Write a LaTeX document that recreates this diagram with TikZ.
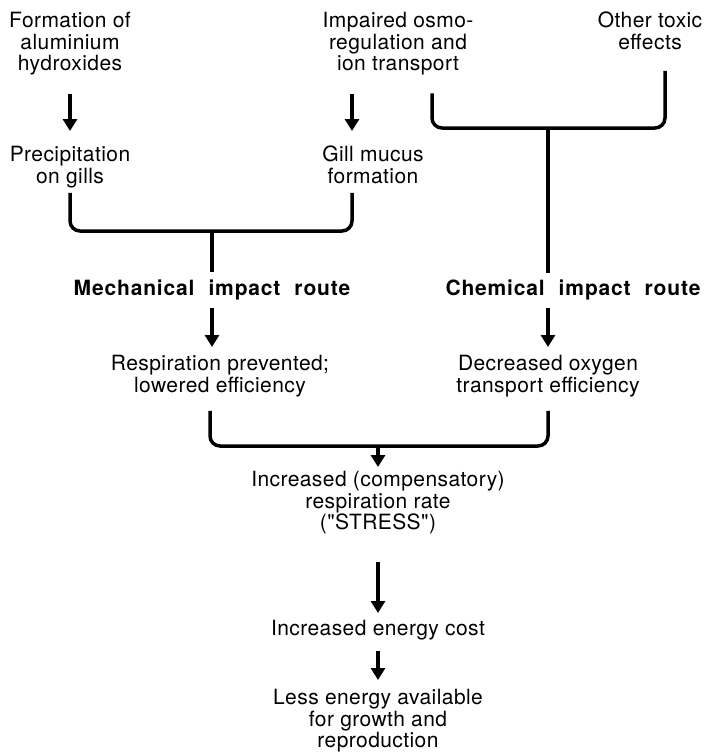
\documentclass[tikz,border=0pt]{standalone}
\usepackage{fontspec}
\setmainfont{TeX Gyre Heros}[LetterSpace=2, Ligatures=TeXOff]
\newfontfamily\routefamily{TeX Gyre Heros}[LetterSpace=4]
\newcommand\routefont{\fontsize{21pt}{21.5pt}\routefamily\bfseries\spaceskip=14pt\relax}
\usepackage{tikz}
\usetikzlibrary{arrows.meta}

\begin{document}
\begin{tikzpicture}[
    x=1pt, y=-1pt,
    txt/.style={anchor=north, align=center, inner sep=0pt, font=\fontsize{21pt}{21.5pt}\selectfont},
    route/.style={anchor=north, align=center, inner sep=0pt, font=\routefont},
    arrow/.style={-{Triangle[width=14pt,length=12pt]}, line width=4.5pt},
    bracket/.style={line width=3.5pt, rounded corners=10pt}
]
    \useasboundingbox (0,0) rectangle (707,752);

    % Causes
    \node[txt] (form) at (70, 12) {Formation of\\aluminium\\hydroxides};
    \node[txt] (impaired) at (398, 12) {Impaired osmo-\\regulation and\\ion transport};
    \node[txt] (other) at (650, 12) {Other toxic\\effects};

    % Effects on gills
    \node[txt] (prec) at (70, 146) {Precipitation\\on gills};
    \node[txt] (gill) at (373, 146) {Gill mucus\\formation};

    % Routes
    \node[route] (mech) at (212, 280) {Mechanical impact route};
    \node[route] (chem) at (573, 280) {Chemical impact route};

    \node[txt] (resp) at (220, 355) {Respiration prevented;\\lowered efficiency};
    \node[txt] (decr) at (548, 355) {Decreased oxygen\\transport efficiency};

    % Common outcome
    \node[txt] (incr) at (378, 471) {Increased (compensatory)\\respiration rate\\("STRESS")};
    \node[txt] (cost) at (378, 620) {Increased energy cost};
    \node[txt] (less) at (378, 689) {Less energy available\\for growth and\\reproduction};

    % Joins
    \coordinate (mj) at (212, 231);
    \coordinate (cj) at (548, 128);
    \coordinate (bj) at (378, 446);

    % Edges
    \draw[arrow, shorten <=19pt, shorten >=15pt] (form.south) -- (form.south |- prec.north);
    \draw[arrow, shorten <=19pt, shorten >=15pt] ([xshift=-46pt]impaired.south) -- ([xshift=-21pt]gill.north);

    \draw[bracket] ([yshift=-5pt]prec.south) |- (mj) -| ([xshift=-21pt, yshift=-9pt]gill.south);
    \draw[bracket] (mj) -- ([yshift=8pt]mech.north);

    \draw[bracket] ([xshift=34pt, yshift=-18pt]impaired.south) |- (cj) -| ([xshift=15pt, yshift=-21pt]other.south);
    \draw[bracket] (cj) -- ([yshift=7pt]cj |- chem.north);

    \draw[arrow, shorten <=7pt, shorten >=8pt] (mech.south) -- (mech.south |- resp.north);
    \draw[arrow, shorten <=7pt, shorten >=8pt] (cj |- chem.south) -- (cj |- decr.north);

    \draw[bracket] ([xshift=-10pt, yshift=-14pt]resp.south) |- (bj) -| ([yshift=-14pt]decr.south);
    \draw[arrow, shorten >=4pt] (bj) -- (incr.north);

    \draw[arrow, shorten <=28pt, shorten >=7pt] (incr) -- (cost);
    \draw[arrow, shorten <=11pt, shorten >=9pt] (cost) -- (less);

\end{tikzpicture}
\end{document}
